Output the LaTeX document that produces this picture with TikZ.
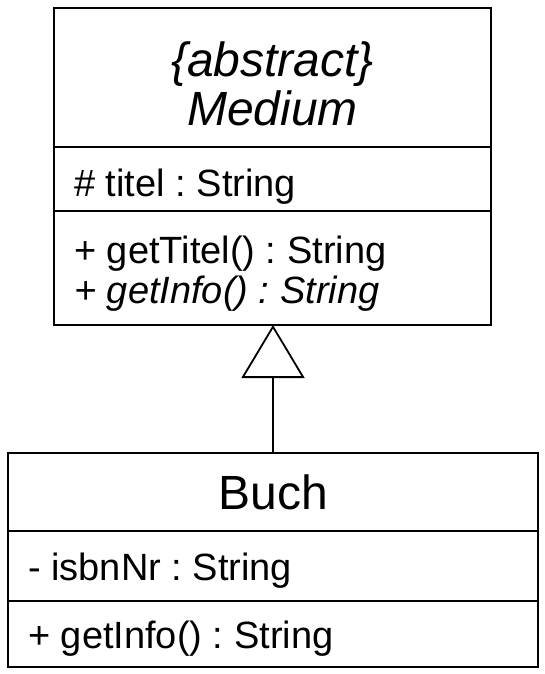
\documentclass[tikz,border=0pt]{standalone}
\usepackage{fontspec}
\setmainfont{Liberation Sans}
\frenchspacing
\usetikzlibrary{positioning,arrows.meta}
\begin{document}
\begin{tikzpicture}[x=1pt,y=-1pt,
		cbox/.style={draw,line width=2.4pt,rectangle,inner sep=0pt,outer sep=0pt},
		ctitle/.style={font=\fontsize{48}{49}\selectfont,inner sep=0pt},
		ctext/.style={font=\fontsize{38}{40}\selectfont,inner sep=0pt,anchor=base west},
		gen/.style={line width=1.4pt,-{Triangle[open,length=53pt,width=63pt,line width=1.8pt]}}]
		\useasboundingbox (0,0) rectangle (544,674);
		\node[cbox,minimum width=437pt,minimum height=139pt,anchor=north] (mhead) at (272.5,8) {};
		\node[cbox,minimum width=437pt,minimum height=64pt,below=0pt of mhead] (mattr) {};
		\node[cbox,minimum width=437pt,minimum height=114pt,below=0pt of mattr] (mops) {};
		\node[cbox,minimum width=530pt,minimum height=78pt,anchor=north] (bhead) at (273,453) {};
		\node[cbox,minimum width=530pt,minimum height=70pt,below=0pt of bhead] (battr) {};
		\node[cbox,minimum width=530pt,minimum height=66pt,below=0pt of battr] (bops) {};
		\node[ctitle,anchor=base] (mabs) at ([yshift=-69pt]mhead.north) {\itshape\{abstract\}};
		\node[ctitle,anchor=base] (mname) at ([yshift=-117pt]mhead.north) {\itshape Medium};
		\node[ctext] (mtitel) at ([shift={(20pt,-49pt)}]mattr.north west) {\# titel : String};
		\node[ctext] (mget) at ([shift={(20pt,-52pt)}]mops.north west) {+ getTitel() : String};
		\node[ctext] (minfo) at ([shift={(20pt,-92pt)}]mops.north west) {\itshape + getInfo() : String};
		\node[ctitle,anchor=base] (bname) at ([yshift=-56pt]bhead.north) {Buch};
		\node[ctext] (bisbn) at ([shift={(20pt,-49pt)}]battr.north west) {- isbnNr : String};
		\node[ctext] (binfo) at ([shift={(20pt,-47pt)}]bops.north west) {+ getInfo() : String};
		\draw[gen] (bhead.north) -- (bhead.north |- mops.south);
\end{tikzpicture}
\end{document}
